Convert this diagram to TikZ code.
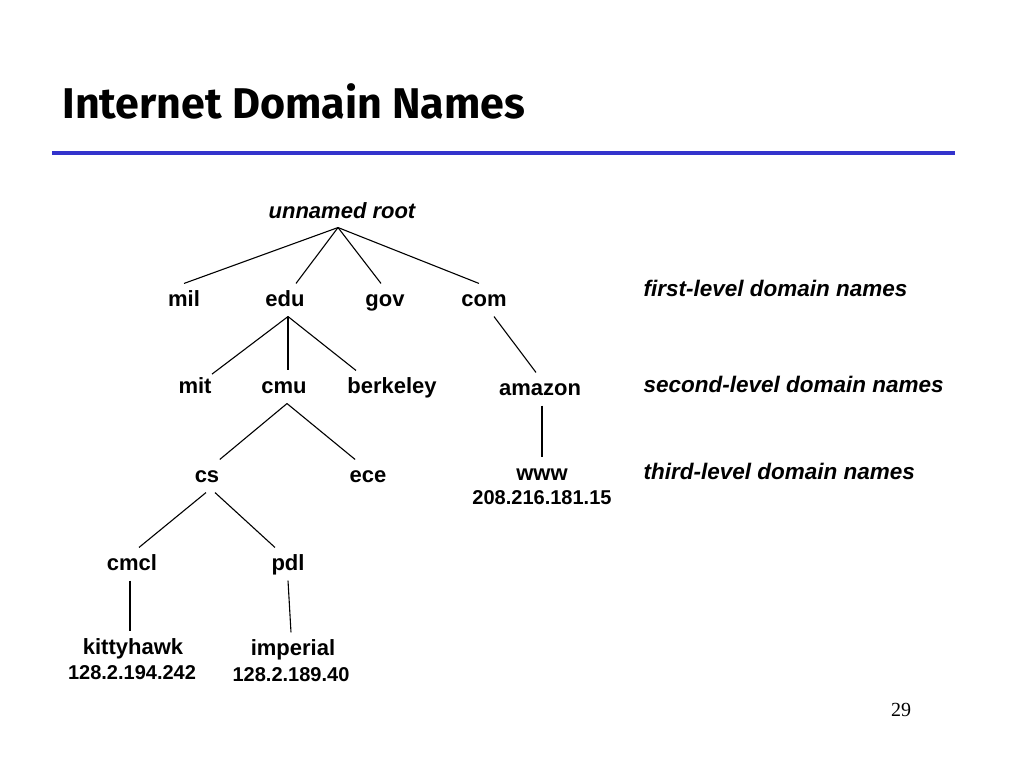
\documentclass[tikz,border=0pt]{standalone}
\usepackage{fontspec}
\setmainfont{Liberation Sans}
\newfontfamily\titlefont{Fira Sans}
\newfontfamily\pagefont{Liberation Serif}
\definecolor{ruleblue}{RGB}{51,51,204}

\begin{document}
\begin{tikzpicture}[x=1bp,y=-1bp,line width=1.1bp,
  dname/.style={font=\fontsize{22bp}{26bp}\selectfont\bfseries, inner xsep=0pt, inner ysep=6bp, text height=16bp, text depth=4bp},
  addr/.style={font=\fontsize{20bp}{24bp}\selectfont\bfseries, inner sep=0pt},
  levtag/.style={dname, font=\fontsize{22.5bp}{26bp}\selectfont\bfseries\itshape, anchor=west}]
\fill[white] (0,0) rectangle (1024,768);
% title and rule
\node[anchor=base west, font=\titlefont\bfseries\fontsize{43bp}{48bp}\selectfont, inner sep=0pt] (title) at (62,118) {Internet Domain Names};
\draw[ruleblue, line width=4bp] (52,153) -- (955,153);
% root and first level
\node[dname, font=\fontsize{22bp}{26bp}\selectfont\bfseries\itshape, inner ysep=5bp] (root) at (342,212) {unnamed root};
\node[dname] (mil) at (184,300) {mil};
\node[dname] (edu) at (285,300) {edu};
\node[dname] (gov) at (385,300) {gov};
\node[dname] (com) at (484,300) {com};
\draw ([xshift=-4bp]root.south) -- (mil.north);
\draw ([xshift=-4bp]root.south) -- ([xshift=11bp]edu.north);
\draw ([xshift=-4bp]root.south) -- ([xshift=-4bp]gov.north);
\draw ([xshift=-4bp]root.south) -- ([xshift=-5bp]com.north);
% second level
\node[dname] (mit) at (195,387) {mit};
\node[dname] (cmu) at (284,387) {cmu};
\node[dname] (berkeley) at (392,387) {berkeley};
\node[dname] (amazon) at (540,389) {amazon};
\draw ([xshift=3bp]edu.south) -- (mit);
\draw ([xshift=3bp]edu.south) -- ([xshift=3bp]edu.south |- cmu.north);
\draw ([xshift=3bp]edu.south) -- ([xshift=-36bp]berkeley.north);
\draw ([xshift=10bp]com.south) -- ([xshift=-4bp]amazon.north);
% third level
\node[dname] (cs) at (207,476) {cs};
\node[dname] (ece) at (368,476) {ece};
\node[dname] (www) at (542,474) {www};
\node[addr] (wwwip) at (542,498) {208.216.181.15};
\draw ([xshift=3bp]cmu.south) -- (cs.north east);
\draw ([xshift=3bp]cmu.south) -- ([xshift=6bp]ece.north west);
\draw (www.north |- amazon.south) -- (www.north);
% below cs
\node[dname] (cmcl) at (132,564) {cmcl};
\node[dname] (pdl) at (288,564) {pdl};
\draw ([xshift=-1bp]cs.south) -- ([xshift=7bp]cmcl.north);
\draw ([xshift=8bp]cs.south) -- ([xshift=4bp]pdl.north west);
\node[dname] (kittyhawk) at (133,648) {kittyhawk};
\node[addr] (kittyip) at (132,673) {128.2.194.242};
\node[dname] (imperial) at (293,649) {imperial};
\node[addr] (imperialip) at (291,675) {128.2.189.40};
\draw ([xshift=-2bp]cmcl.south) -- ([xshift=-2bp]cmcl.south |- kittyhawk.north);
\draw (pdl.south) -- ([xshift=-2bp]imperial.north);
% level names
\node[levtag] (first) at (643,290) {first-level domain names};
\node[levtag] (second) at (643,386) {second-level domain names};
\node[levtag] (third) at (643,473) {third-level domain names};
% slide number
\node[font=\pagefont\fontsize{20bp}{24bp}\selectfont, inner sep=0pt] (page) at (901,710) {29};
\end{tikzpicture}
\end{document}
